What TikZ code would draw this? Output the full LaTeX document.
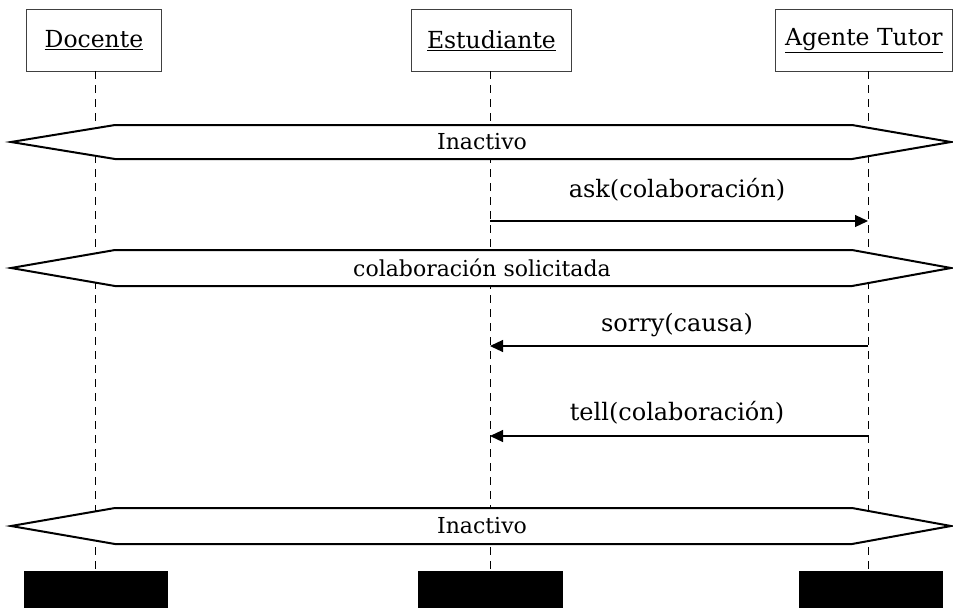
\documentclass[tikz,border=0pt]{standalone}
\usepackage{fontspec}
\setmainfont{DejaVu Serif}
\usetikzlibrary{arrows.meta}
\begin{document}
\begin{tikzpicture}[x=1pt,y=-1pt,
  actor/.style={draw=black!75, line width=0.9pt, fill=white, minimum height=62pt,
    inner sep=0pt, anchor=north west, font=\fontsize{23.5}{27}\selectfont},
  lifeline/.style={dash pattern=on 8pt off 6pt, line width=0.8pt},
  band/.style={draw, line width=2pt, fill=white, line join=miter},
  bandtext/.style={font=\fontsize{22}{26}\selectfont, inner sep=0pt},
  msg/.style={line width=1.2pt, -{Triangle[length=13pt,width=12pt]}},
  msgtext/.style={font=\fontsize{24}{28}\selectfont, inner sep=0pt},
  endbox/.style={fill=black}]
\useasboundingbox (0,0) rectangle (953,608);

% participants
\node[actor, minimum width=135pt] (doc) at (26,9) {\underline{Docente}};
\node[actor, minimum width=160pt] (est) at (411,9) {\underline{Estudiante}};
\node[actor, minimum width=177pt] (agt) at (775,9) {\underline{Agente Tutor}};

% lifeline ends
\coordinate (docT) at (95,71);   \coordinate (docB) at (95,571);
\coordinate (estT) at (490,71);  \coordinate (estB) at (490,571);
\coordinate (agtT) at (868,71);  \coordinate (agtB) at (868,571);
\draw[lifeline] (docT) -- (docB);
\draw[lifeline] (estT) -- (estB);
\draw[lifeline] (agtT) -- (agtB);

% state bands
\draw[band] (11,142) -- (115,125) -- (852,125) -- (951,142) -- (852,159) -- (115,159) -- cycle;
\node[bandtext] (s1) at (482,142) {Inactivo};
\draw[band] (11,268) -- (115,250) -- (852,250) -- (951,268) -- (852,286) -- (115,286) -- cycle;
\node[bandtext] (s2) at (482,268) {colaboración solicitada};
\draw[band] (11,526) -- (115,508) -- (852,508) -- (951,526) -- (852,544) -- (115,544) -- cycle;
\node[bandtext] (s3) at (482,526) {Inactivo};

% messages
\coordinate (m1s) at (490,221); \coordinate (m1e) at (868,221);
\draw[msg] (m1s) -- (m1e);
\node[msgtext] (l1) at (677,190) {ask(colaboración)};
\coordinate (m2s) at (868,346); \coordinate (m2e) at (490,346);
\draw[msg] (m2s) -- (m2e);
\node[msgtext] (l2) at (677,325) {sorry(causa)};
\coordinate (m3s) at (868,436); \coordinate (m3e) at (490,436);
\draw[msg] (m3s) -- (m3e);
\node[msgtext] (l3) at (677,413) {tell(colaboración)};

% terminators
\fill[endbox] (24,571) rectangle (168,608);
\fill[endbox] (418,571) rectangle (563,608);
\fill[endbox] (799,571) rectangle (943,608);
\end{tikzpicture}
\end{document}
